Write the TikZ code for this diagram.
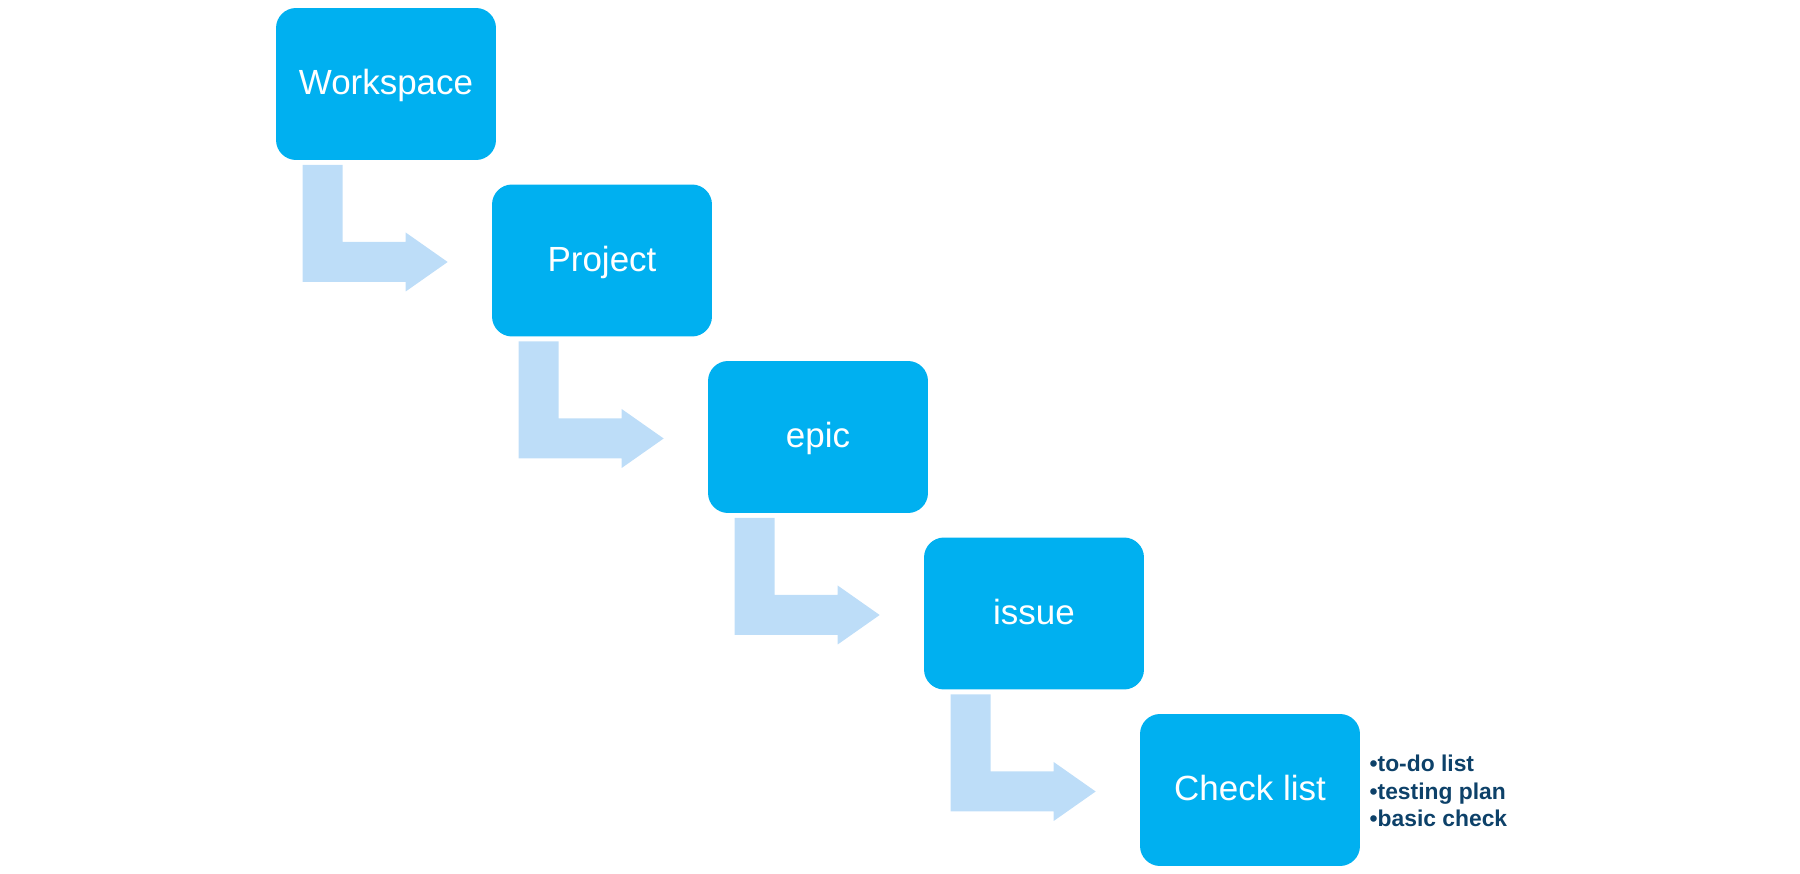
\documentclass[tikz,border=0pt]{standalone}
\usepackage{fontspec}
\setmainfont{Liberation Sans}
\usetikzlibrary{calc}
\definecolor{boxblue}{HTML}{00B0F0}
\definecolor{arrowblue}{HTML}{BDDDF8}
\definecolor{notenavy}{HTML}{0D4169}

\begin{document}
\begin{tikzpicture}[x=0.02cm,y=-0.02cm,
  level/.style={fill=boxblue,rounded corners=0.4cm,minimum width=4.4cm,minimum height=3.04cm,
    inner sep=0pt,text height=12pt,text depth=0pt,text=white,font=\fontsize{19.9}{24}\selectfont},
  bent/.style={fill=arrowblue},
  notes/.style={anchor=west,align=left,inner sep=0pt,text=notenavy,font=\bfseries\fontsize{13}{15.7}\selectfont}]
  \useasboundingbox (0,0) rectangle (1800,874);
  \node[level] (ws) at (386,84) {Workspace};
  \node[level] (proj) at (602,260.5) {Project};
  \node[level] (epic) at (818,437) {epic};
  \node[level] (iss) at (1034,613.5) {issue};
  \node[level] (chk) at (1250,790) {Check list};
  \node[notes] (todo) at ($(chk.east)+(9,1)$) {•to-do list\\•testing plan\\•basic check};
  % bent arrows between the levels
  \foreach \a/\b in {ws/proj,proj/epic,epic/iss,iss/chk} {
    \coordinate (s) at ($(\a.south west)+(27,4.5)$);
    \coordinate (t) at ($(\b.west)+(-44,1.5)$);
    \fill[bent] (s) -- ++(40,0) |- ($(t)+(-42,-20)$) -- ++(0,-9.5) -- (t) -- ++(-42,29.5) -- ++(0,-9.5) -| (s) -- cycle;
  }
\end{tikzpicture}
\end{document}
